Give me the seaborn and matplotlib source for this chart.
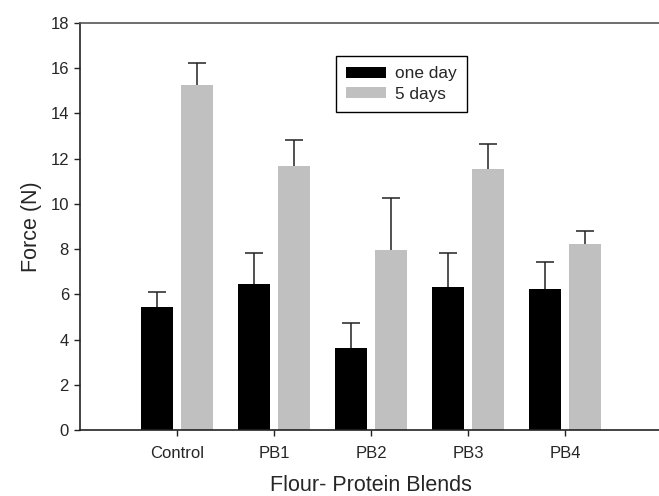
import pandas as pd
import matplotlib.pyplot as plt
import seaborn as sns

# data
blends = ["Control", "PB1", "PB2", "PB3", "PB4"]
one_day = [5.45, 6.44, 3.64, 6.31, 6.22]
one_day_err = [0.65, 1.37, 1.11, 1.50, 1.22]
five_days = [15.26, 11.68, 7.95, 11.53, 8.21]
five_days_err = [0.99, 1.13, 2.32, 1.12, 0.60]

df = pd.DataFrame({
    "blend": blends * 2,
    "force": one_day + five_days,
    "err": one_day_err + five_days_err,
    "time": ["one day"] * 5 + ["5 days"] * 5,
})

sns.set_style("ticks")
plt.rcParams["font.family"] = ["Liberation Sans", "DejaVu Sans"]

fig = plt.figure(figsize=(6.59, 4.96), dpi=100)
ax = fig.add_axes([80 / 659, 66 / 496, 582 / 659, 407 / 496])

sns.barplot(data=df, x="blend", y="force", hue="time", order=blends,
            hue_order=["one day", "5 days"], palette=["black", "#c0c0c0"],
            width=0.84, gap=0.21, errorbar=None, saturation=1, ax=ax,
            linewidth=0)

# upper error bars only
bars = [p for p in ax.patches if p.get_height() > 0]
for p, (_, row) in zip(bars, df.iterrows()):
    xc = p.get_x() + p.get_width() / 2
    eb = ax.errorbar(xc, row["force"], yerr=[[0], [row["err"]]], fmt="none",
                     ecolor="#222222", elinewidth=1.1, capsize=6.5, capthick=1.1)
    eb[1][0].set_visible(False)

ax.set_xlim(-1, 5)
ax.set_ylim(0, 18)
ax.set_yticks(range(0, 19, 2))
ax.set_xlabel("Flour- Protein Blends", fontsize=15.5, labelpad=10)
ax.set_ylabel("Force (N)", fontsize=15.5, labelpad=6)
ax.tick_params(labelsize=12, width=1, length=4.5, color="#222222")
ax.tick_params(axis="x", pad=7)
for s in ["left", "bottom", "top"]:
    ax.spines[s].set_visible(True)
    ax.spines[s].set_linewidth(1.2)
    ax.spines[s].set_color("#222222")
ax.spines["top"].set_color("#555555")
ax.spines["right"].set_visible(False)

h, l = ax.get_legend_handles_labels()
leg = ax.legend(h, l, loc="upper left", bbox_to_anchor=(336 / 659, 1 - 56 / 496),
                bbox_transform=fig.transFigure, borderaxespad=0, fontsize=12.4,
                fancybox=False, edgecolor="black", framealpha=1,
                handlelength=2.3, handleheight=0.6, handletextpad=0.55,
                borderpad=0.6, labelspacing=0.3)
leg.get_frame().set_linewidth(1)

fig.savefig("out.png", dpi=100)
